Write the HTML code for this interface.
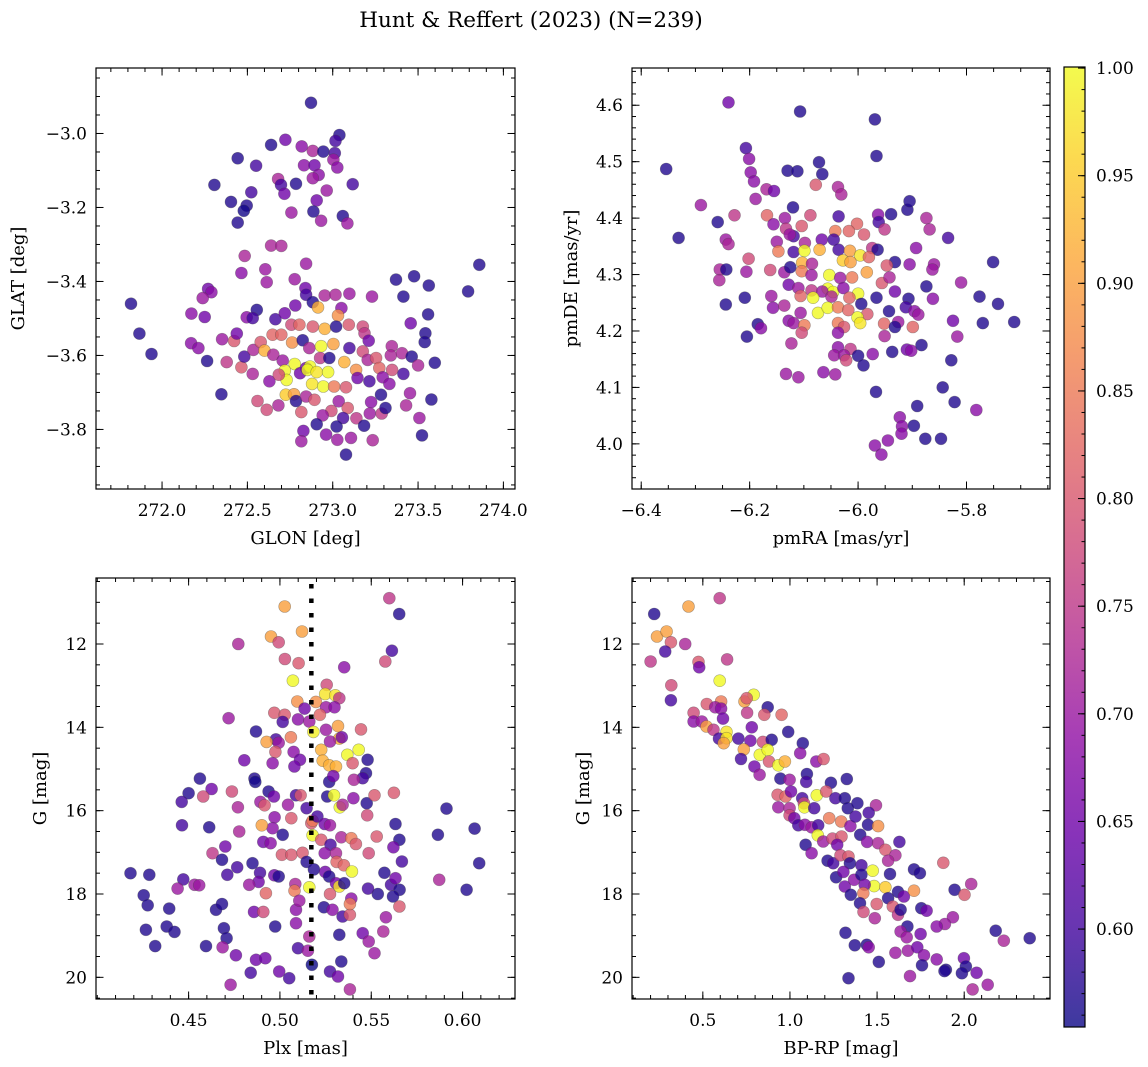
<!DOCTYPE html>
<html><head><meta charset="utf-8"><style>
html,body{margin:0;padding:0;background:#fff;}
svg{display:block;font-family:"DejaVu Serif","Liberation Serif",serif;}
</style></head><body>
<svg id="fig" width="1148" height="1067" viewBox="0 0 1148 1067" xmlns="http://www.w3.org/2000/svg">
<text x="531" y="27" font-size="21.5" text-anchor="middle">Hunt &amp; Reffert (2023) (N=239)</text>
</svg>
<script>
// ---------- Panel 1: GLON vs GLAT ----------
const p1Glon=[272.873,273.039,273.016,272.639,272.723,272.818,272.883,272.945,273.012,273.004,273.027,272.443,272.551,272.832,272.893,272.918,272.883,272.680,272.697,272.785,273.117,272.307,272.523,272.717,272.965,272.404,272.496,272.479,272.906,272.758,272.887,273.059,273.086,272.932,272.443,272.639,272.699,272.484,272.844,272.605,272.465,272.613,272.777,272.270,272.289,272.238,271.818,272.840,272.844,272.953,273.016,273.098,273.230,273.371,273.477,273.563,273.414,273.859,273.793,272.883,272.781,272.914,273.051,273.031,272.172,272.250,272.496,272.555,272.531,272.664,272.719,273.559,273.457,271.867,271.938,272.170,272.213,272.264,272.352,272.422,272.438,272.379,272.465,272.482,272.535,272.578,272.600,272.648,272.699,272.758,272.805,272.883,272.953,273.020,273.094,273.176,273.186,273.211,272.762,272.824,272.863,272.932,273.004,273.098,273.176,272.652,272.707,272.777,272.844,272.867,272.926,272.980,273.068,273.137,273.205,273.254,273.273,273.346,273.340,273.406,273.463,273.500,273.543,273.539,273.598,272.531,272.629,272.719,272.730,272.684,272.809,272.852,272.906,272.973,272.879,272.945,273.008,273.078,273.145,273.215,273.293,273.348,273.332,273.414,273.453,272.348,272.559,272.613,272.682,272.725,272.773,272.785,272.844,272.893,272.816,273.035,273.088,272.992,272.941,273.061,273.139,273.225,273.217,273.283,273.287,273.309,273.430,273.508,273.578,273.523,272.906,273.023,273.184,272.828,272.961,272.816,273.027,273.107,273.234,273.078];
const p1Glat=[-2.917,-3.004,-3.020,-3.031,-3.017,-3.035,-3.047,-3.049,-3.053,-3.071,-3.092,-3.067,-3.087,-3.086,-3.086,-3.112,-3.121,-3.123,-3.139,-3.136,-3.137,-3.139,-3.159,-3.163,-3.154,-3.185,-3.195,-3.209,-3.181,-3.214,-3.211,-3.223,-3.243,-3.236,-3.241,-3.303,-3.304,-3.331,-3.352,-3.367,-3.377,-3.402,-3.394,-3.420,-3.429,-3.445,-3.460,-3.418,-3.436,-3.438,-3.436,-3.433,-3.441,-3.395,-3.386,-3.411,-3.441,-3.355,-3.427,-3.456,-3.465,-3.470,-3.472,-3.492,-3.487,-3.496,-3.497,-3.477,-3.499,-3.502,-3.486,-3.489,-3.513,-3.541,-3.596,-3.567,-3.580,-3.615,-3.556,-3.561,-3.541,-3.618,-3.632,-3.603,-3.585,-3.564,-3.587,-3.544,-3.544,-3.517,-3.517,-3.522,-3.528,-3.522,-3.517,-3.522,-3.540,-3.560,-3.565,-3.559,-3.580,-3.575,-3.569,-3.580,-3.589,-3.598,-3.614,-3.623,-3.634,-3.630,-3.607,-3.607,-3.618,-3.639,-3.612,-3.607,-3.634,-3.575,-3.600,-3.594,-3.603,-3.627,-3.540,-3.564,-3.620,-3.650,-3.670,-3.641,-3.666,-3.652,-3.648,-3.639,-3.645,-3.645,-3.677,-3.684,-3.684,-3.686,-3.661,-3.670,-3.659,-3.639,-3.677,-3.650,-3.702,-3.705,-3.723,-3.747,-3.735,-3.706,-3.705,-3.723,-3.711,-3.720,-3.753,-3.724,-3.742,-3.750,-3.762,-3.769,-3.770,-3.726,-3.757,-3.706,-3.757,-3.742,-3.735,-3.769,-3.719,-3.816,-3.786,-3.792,-3.790,-3.804,-3.814,-3.832,-3.828,-3.823,-3.829,-3.868];
const p1Prob=[.57,.57,.6,.57,.65,.68,.72,.57,.6,.7,.68,.57,.6,.68,.65,.68,.7,.72,.6,.57,.6,.57,.6,.65,.7,.57,.57,.56,.65,.7,.57,.57,.7,.7,.57,.72,.72,.72,.7,.7,.68,.7,.7,.65,.68,.7,.57,.65,.6,.72,.72,.7,.7,.57,.57,.57,.57,.57,.57,.57,.65,.92,.68,.88,.68,.65,.68,.57,.6,.6,.65,.57,.65,.57,.57,.68,.68,.57,.7,.8,.65,.75,.8,.6,.72,.8,.92,.82,.82,.78,.82,.8,.92,.57,.8,.78,.75,.65,.88,.57,.72,1.0,.9,.6,.78,.72,.7,1.0,.65,1.0,.75,.57,.92,.88,.72,.8,.82,.72,.72,.72,.57,.72,.57,.57,.57,.72,.68,1.0,1.0,.78,.65,1.0,.98,1.0,.98,1.0,.85,.8,.65,.6,.68,.78,.68,.6,.7,.57,.78,.78,.72,.95,.9,.57,.72,.8,.8,.7,.8,.78,.7,.6,.75,.68,.7,.57,.75,.57,.72,.7,.57,.57,.57,.57,.57,.65,.68,.7,.7,.7,.72,.57];
const p1XTicks=[272.0,272.5,273.0,273.5,274.0];
const p1YTicks=[-3.8,-3.6,-3.4,-3.2,-3.0];

// ---------- Panel 2: pmRA vs pmDE ----------
const p2Pmra=[-6.239,-6.107,-5.969,-5.966,-6.354,-6.207,-6.201,-6.198,-6.192,-6.189,-6.169,-6.155,-6.130,-6.112,-6.072,-6.066,-6.078,-6.037,-6.031,-6.290,-6.331,-6.259,-6.228,-6.168,-6.120,-6.088,-6.135,-6.036,-6.156,-6.133,-6.104,-6.119,-6.126,-6.002,-6.017,-6.042,-5.989,-5.963,-5.939,-5.909,-5.905,-5.962,-5.951,-5.874,-5.868,-5.834,-6.244,-6.239,-6.150,-6.098,-6.067,-6.045,-6.147,-6.119,-6.099,-6.071,-6.036,-6.015,-5.996,-5.974,-5.964,-5.893,-6.202,-6.103,-6.085,-6.028,-6.014,-5.980,-5.932,-5.947,-5.905,-5.860,-5.863,-5.751,-6.255,-6.243,-6.256,-6.206,-6.162,-6.136,-6.125,-6.104,-6.086,-6.053,-6.033,-6.011,-5.984,-5.956,-5.942,-6.128,-6.110,-6.086,-6.056,-6.046,-6.027,-6.000,-6.066,-5.932,-5.874,-5.810,-6.209,-6.160,-6.106,-6.083,-6.049,-6.016,-5.994,-5.966,-5.907,-5.862,-5.776,-5.742,-6.244,-6.157,-6.136,-6.106,-6.074,-6.056,-6.037,-6.018,-5.983,-5.943,-5.912,-5.896,-5.889,-6.128,-6.119,-6.099,-6.104,-6.037,-6.026,-6.001,-5.996,-6.037,-5.952,-5.926,-5.899,-5.932,-5.825,-5.770,-5.712,-6.185,-6.179,-6.205,-6.123,-5.951,-5.817,-6.037,-6.014,-6.044,-6.026,-6.022,-6.000,-5.990,-5.973,-5.937,-5.910,-5.902,-5.883,-5.828,-6.133,-6.110,-6.064,-6.042,-5.967,-5.844,-5.891,-5.822,-5.782,-5.923,-5.919,-5.897,-5.920,-5.876,-5.847,-5.969,-5.945,-5.957];
const p2Pmde=[4.605,4.589,4.575,4.510,4.487,4.524,4.505,4.481,4.465,4.434,4.451,4.448,4.484,4.483,4.499,4.478,4.459,4.455,4.442,4.423,4.365,4.393,4.405,4.405,4.419,4.405,4.400,4.403,4.389,4.381,4.386,4.368,4.371,4.390,4.377,4.377,4.371,4.406,4.407,4.415,4.430,4.393,4.380,4.400,4.380,4.365,4.362,4.354,4.358,4.356,4.362,4.362,4.341,4.340,4.342,4.344,4.344,4.342,4.334,4.347,4.344,4.347,4.328,4.321,4.319,4.325,4.322,4.331,4.322,4.316,4.318,4.318,4.309,4.322,4.309,4.309,4.290,4.305,4.308,4.304,4.313,4.306,4.299,4.299,4.294,4.295,4.304,4.285,4.295,4.282,4.276,4.272,4.275,4.269,4.276,4.266,4.270,4.270,4.279,4.286,4.259,4.262,4.262,4.259,4.261,4.259,4.248,4.259,4.257,4.257,4.261,4.248,4.247,4.241,4.245,4.232,4.232,4.241,4.242,4.237,4.230,4.235,4.242,4.235,4.229,4.218,4.214,4.210,4.197,4.214,4.207,4.224,4.214,4.197,4.213,4.216,4.207,4.207,4.218,4.214,4.216,4.212,4.205,4.190,4.178,4.191,4.190,4.171,4.168,4.157,4.157,4.148,4.156,4.139,4.159,4.163,4.167,4.165,4.175,4.148,4.124,4.118,4.127,4.123,4.092,4.100,4.067,4.074,4.060,4.047,4.031,4.032,4.018,4.009,4.009,3.997,4.006,3.981];
const p2Prob=[.65,.57,.57,.57,.57,.6,.68,.68,.68,.7,.72,.65,.57,.57,.57,.57,.8,.72,.72,.7,.57,.57,.75,.82,.57,.78,.7,.6,.68,.75,.8,.6,.7,.82,.82,.85,.8,.68,.57,.57,.57,.6,.75,.72,.72,.6,.7,.72,.7,.72,.65,.6,.85,.6,1.0,.92,.6,.9,.98,.75,.57,.68,.78,.92,.72,.95,.9,.82,.57,.8,.68,.7,.7,.57,.72,.57,.72,.7,.78,.7,.57,.85,.7,1.0,.7,.85,.9,.8,.72,.65,.7,.75,1.0,1.0,.68,1.0,.7,.65,.57,.7,.57,.7,.82,1.0,.72,.82,.57,.57,.57,.68,.57,.57,.57,.68,.72,.7,1.0,1.0,.85,.82,.8,.57,.6,.68,.7,.68,.7,.85,.78,.85,.8,1.0,.98,.68,.82,.7,.82,.57,.65,.57,.57,.57,.68,.57,.72,.72,.7,.68,.75,.7,.7,.78,.57,.57,.68,.57,.65,.68,.57,.57,.7,.7,.68,.7,.57,.57,.57,.57,.68,.68,.68,.57,.68,.57,.57,.68,.68,.68];
const p2XTicks=[-6.4,-6.2,-6.0,-5.8];
const p2YTicks=[4.0,4.1,4.2,4.3,4.4,4.5,4.6];

// ---------- Panel 3: Plx vs G ----------
const p3Plx=[.5599,.5653,.5026,.5121,.4951,.4993,.4772,.5613,.5577,.5027,.5102,.5352,.5071,.5256,.5248,.5303,.5325,.5095,.5197,.5135,.5252,.5299,.4719,.4969,.5026,.5015,.5099,.5219,.5161,.5183,.5252,.5318,.5444,.4869,.4978,.4927,.4993,.5060,.5325,.5339,.5274,.4975,.5075,.5226,.5369,.5431,.4805,.4960,.5110,.5079,.5234,.5270,.5307,.5398,.5480,.5471,.5453,.5405,.4562,.4861,.4865,.5270,.5292,.4500,.4626,.4580,.4462,.4737,.4770,.4938,.4967,.4893,.4916,.5044,.5088,.5113,.5146,.5259,.5296,.5328,.5343,.5402,.5475,.5518,.5624,.5478,.5912,.4464,.4613,.4777,.4971,.4960,.5062,.5015,.4901,.5172,.5179,.5205,.5245,.5274,.5179,.5226,.5336,.5391,.5416,.5530,.5633,.5654,.5621,.5865,.6066,.4701,.4631,.4683,.4909,.4949,.5011,.5062,.5124,.5277,.5245,.5307,.5310,.5350,.5394,.5486,.5668,.6091,.4182,.4285,.4471,.4440,.4533,.4558,.4712,.4766,.4850,.4891,.4883,.4832,.4969,.4993,.5146,.5186,.5084,.5161,.5080,.4923,.5248,.5270,.5307,.5325,.5352,.5274,.5572,.5608,.5633,.5655,.5619,.5536,.5482,.5872,.6022,.4254,.4276,.4394,.4650,.4683,.4858,.4909,.5088,.5106,.5241,.5288,.5343,.5383,.5391,.5383,.5654,.5580,.4266,.4380,.4423,.4693,.4708,.4974,.5088,.5161,.5325,.5453,.5486,.5566,.4317,.4595,.4686,.4759,.4869,.4920,.5099,.5153,.5336,.5518,.4840,.4996,.5051,.5175,.5274,.5318,.4730,.5383];
const p3G=[10.90,11.28,11.10,11.70,11.82,11.96,12.00,12.16,12.42,12.36,12.46,12.56,12.88,12.98,13.20,13.23,13.30,13.38,13.39,13.55,13.52,13.52,13.78,13.65,13.70,13.87,13.81,13.70,13.86,14.11,14.06,13.97,14.05,14.10,14.29,14.35,14.37,14.24,14.27,14.24,14.34,14.59,14.59,14.54,14.66,14.54,14.79,14.86,14.78,14.94,14.80,14.91,14.94,14.86,14.78,15.10,15.22,15.26,15.23,15.23,15.31,15.31,15.17,15.58,15.48,15.66,15.79,15.54,15.92,15.54,15.66,15.79,15.87,15.86,15.63,15.63,15.94,15.66,15.63,15.92,15.86,15.70,15.82,15.63,15.57,16.11,15.95,16.35,16.40,16.50,16.16,16.42,16.18,16.58,16.35,16.30,16.24,16.14,16.32,16.35,16.59,16.70,16.64,16.66,16.80,16.62,16.32,16.70,16.88,16.58,16.43,16.86,17.02,17.18,16.75,16.78,17.06,17.06,17.01,16.82,17.02,17.02,17.23,17.31,17.46,17.02,17.22,17.26,17.50,17.54,17.65,17.87,17.78,17.79,17.54,17.36,17.26,17.49,17.71,17.78,17.55,17.58,17.23,17.41,17.76,17.84,17.92,17.98,17.47,17.58,17.74,17.82,17.74,18.00,17.49,17.78,17.62,17.90,18.06,18.00,17.87,17.66,17.90,18.03,18.27,18.35,18.38,18.24,18.43,18.43,18.38,18.16,18.32,18.38,18.54,18.50,18.11,18.24,18.30,18.56,18.86,18.78,18.91,18.82,19.06,18.78,18.70,19.02,18.98,18.94,19.14,18.90,19.25,19.25,19.28,19.47,19.58,19.54,19.30,19.36,19.62,19.42,19.89,19.86,20.02,19.70,19.86,19.98,20.18,20.29];
const p3Prob=[.75,.57,.9,.9,.9,.78,.72,.6,.78,.78,.8,.68,1.0,.78,.98,.98,.75,.88,.88,.65,.7,.68,.7,.8,.8,.6,.68,.82,.7,.99,.7,.9,.8,.57,.6,.9,.7,.85,.92,.65,.7,.8,.68,.92,1.0,1.0,.65,.68,.65,.65,.92,.92,.92,.8,.57,.57,.6,.72,.57,.57,.56,.57,.65,.57,.65,.78,.6,.78,.72,.57,.65,.7,.8,.7,.6,.8,.6,.57,1.0,1.0,.72,.68,.57,.8,.8,.78,.57,.6,.57,.72,.68,.68,.8,.57,.9,.8,.85,.6,.65,.7,1.0,.8,.72,.85,.8,.8,.57,.57,.65,.57,.57,.65,.75,.57,.65,.68,.8,.8,.8,.6,.68,.72,.82,.82,1.0,.78,.6,.57,.57,.57,.6,.7,.7,.7,.6,.6,.57,.6,.65,.7,.65,.57,.57,.57,.72,1.0,.85,.82,.65,.57,.65,.98,.57,.8,.57,.6,.65,.57,.57,.57,.6,.72,.57,.57,.57,.57,.57,.57,.65,.78,.68,.7,.57,.68,.6,.8,.68,.85,.8,.7,.57,.57,.57,.57,.57,.57,.68,.72,.57,.65,.7,.72,.57,.57,.7,.65,.65,.65,.6,.7,.57,.7,.6,.65,.6,.55,.6,.65,.7,.72];
const p3XTicks=[0.45,0.50,0.55,0.60];
const p3YTicks=[12,14,16,18,20];
const p3PlxLine=[0.5172];

// ---------- Panel 4: BP-RP vs G ----------
const p4Bprp=[.221,.418,.597,.237,.292,.317,.399,.284,.200,.475,.479,.639,.597,.319,.317,.739,.792,.752,.605,.523,.571,.605,.872,.754,.853,.952,.447,.447,.494,.616,.521,.561,.636,.593,.636,.620,.781,.990,.704,.773,.845,.895,.735,.827,.872,.880,.933,.971,1.074,1.059,1.151,1.193,.719,.796,.826,.945,.998,1.097,1.093,1.235,1.326,.929,.975,.933,.998,1.006,1.070,1.080,1.083,1.139,1.154,1.208,1.261,1.315,1.332,1.387,1.494,1.452,.998,1.025,1.048,1.086,1.124,1.162,1.225,1.294,1.347,1.376,1.403,1.448,1.506,1.090,1.124,1.160,1.191,1.244,1.296,1.271,1.216,1.248,1.290,1.336,1.344,1.443,1.506,1.548,1.605,1.628,1.563,1.410,1.265,1.307,1.315,1.368,1.410,1.475,1.483,1.548,1.429,1.421,1.349,1.402,1.498,1.563,1.574,1.620,1.654,1.712,1.712,1.746,1.422,1.487,1.590,1.620,1.635,1.754,1.784,1.880,1.945,2.002,2.040,1.935,1.889,1.842,1.674,1.635,1.670,1.750,1.319,1.372,1.441,1.452,1.605,1.677,1.731,1.769,1.842,1.758,1.895,1.998,2.010,1.987,2.071,2.135,2.048,1.689,1.510,1.336,2.181,2.227,2.376,1.887];
const p4G=[11.28,11.10,10.90,11.82,11.70,11.96,12.00,12.18,12.42,12.43,12.56,12.37,12.88,12.99,13.35,13.38,13.22,13.30,13.38,13.44,13.52,13.55,13.52,13.65,13.70,13.70,13.65,13.86,13.86,13.79,13.98,14.06,14.11,14.27,14.26,14.38,14.00,14.11,14.27,14.32,14.35,14.30,14.53,14.66,14.54,14.82,14.91,14.82,14.38,14.62,14.82,14.76,14.76,14.94,15.14,15.23,15.26,15.12,15.31,15.33,15.24,15.62,15.66,15.92,15.94,15.54,15.70,15.82,15.92,15.94,15.63,15.54,15.70,15.70,15.94,15.82,15.87,16.05,16.11,16.18,16.35,16.34,16.40,16.35,16.18,16.26,16.37,16.14,16.58,16.34,16.37,16.82,17.02,16.59,16.74,16.67,16.62,16.82,17.20,17.26,17.07,17.10,17.26,16.75,16.78,16.94,17.07,16.75,17.20,17.31,17.60,17.47,17.82,17.66,17.54,17.44,17.81,17.84,17.78,17.98,18.02,18.22,18.24,18.10,17.52,17.95,18.06,17.92,17.41,17.50,18.43,18.58,18.30,18.50,18.38,18.34,18.40,17.25,17.90,18.02,17.76,18.56,18.72,18.78,18.78,18.90,19.04,18.96,18.93,19.23,19.22,19.28,19.41,19.36,19.28,19.47,19.57,19.71,19.82,19.54,19.74,19.90,19.89,20.18,20.29,19.97,19.63,20.02,18.88,19.12,19.06,19.85];
const p4Prob=[.57,.9,.75,.9,.9,.8,.72,.6,.75,.8,.65,.75,1.0,.78,.6,.9,1.0,.8,.85,.8,.7,.68,.57,.75,.8,.82,.78,.68,.7,.65,.9,.75,.98,.6,.98,.9,.65,.57,.6,.65,.78,.57,.9,1.0,1.0,.8,1.0,.92,.57,.68,.68,.8,.6,.65,.7,.57,.7,.57,.6,.57,.57,.8,.82,.7,.72,.65,.6,.78,1.0,.6,1.0,.8,.6,.57,.57,.57,.72,.6,.78,.65,.6,.68,.7,.6,.85,.85,.68,.6,.57,.57,.88,.57,.68,1.0,.7,.78,.8,.65,.57,.6,.78,.8,.57,.68,.72,.8,.72,.6,.72,.6,.57,.65,.65,.68,.57,1.0,1.0,.95,.65,.85,.57,.57,.8,.57,.57,.57,.65,.88,.57,.57,.78,.72,.8,.75,.57,.57,.65,.8,.57,.8,.72,.7,.7,.68,.57,.7,.7,.65,.57,.57,.57,.68,.7,.7,.65,.68,.68,.57,.57,.65,.57,.57,.65,.7,.72,.7,.57,.57,.57,.72,.57,.57];
const p4XTicks=[0.5,1.0,1.5,2.0];
const p4YTicks=[12,14,16,18,20];

// ---------- Colorbar ----------
const cbTicks=[0.60,0.65,0.70,0.75,0.80,0.85,0.90,0.95,1.00];
const cbMin=0.5545, cbMax=1.0005;

const NS="http://www.w3.org/2000/svg";
const svg=document.getElementById('fig');
const plasma=[[13,8,135],[65,4,157],[106,0,168],[143,13,164],[177,42,144],[204,71,120],[225,100,98],[242,132,75],[252,166,54],[252,206,37],[240,249,33]];
function cmap(v){
  let t=(v-cbMin)/(cbMax-cbMin); t=Math.max(0,Math.min(1,t));
  const f=t*10, i=Math.min(9,Math.floor(f)), r=f-i;
  const a=plasma[i], b=plasma[i+1];
  return 'rgb('+a.map((c,k)=>Math.round(c+(b[k]-c)*r)).join(',')+')';
}
function el(tag,attrs,parent){
  const e=document.createElementNS(NS,tag);
  for(const k in attrs) e.setAttribute(k,attrs[k]);
  (parent||svg).appendChild(e); return e;
}
function fmt(v,d){ const s=v.toFixed(d); return s.replace('-','\u2212'); }
const TICKFS=17, LABFS=18;

function panel(c){
  const g=el('g',{});
  
  
  const sx=v=>c.x0+(v-c.xmin)/(c.xmax-c.xmin)*(c.x1-c.x0);
  const sy=c.invert? (v=>c.y0+(v-c.ymin)/(c.ymax-c.ymin)*(c.y1-c.y0))
                    : (v=>c.y1-(v-c.ymin)/(c.ymax-c.ymin)*(c.y1-c.y0));
  const pts=el('g',{},g);
  
  
  for(let i=0;i<c.xs.length;i++){
    const m=el('circle',{cx:sx(c.xs[i]).toFixed(1),cy:sy(c.ys[i]).toFixed(1),r:6,fill:cmap(c.ps[i]),'fill-opacity':0.8,stroke:'#444','stroke-opacity':0.45,'stroke-width':0.6},pts);
    
    
  }
  if(c.vline){
    for(const v of c.vline){
      const l=el('line',{x1:sx(v),x2:sx(v),y1:c.y0+6,y2:c.y1,stroke:'#000','stroke-width':4.5,'stroke-dasharray':'4.5 10'},g);
      
      
    }
  }
  const fr=el('rect',{x:c.x0,y:c.y0,width:c.x1-c.x0,height:c.y1-c.y0,fill:'none',stroke:'#000','stroke-width':1.2},g);
  
  
  const tk=el('g',{stroke:'#000','stroke-width':1},g);
  for(let v=Math.ceil(c.xmin/c.xminor)*c.xminor; v<=c.xmax; v+=c.xminor){
    const x=sx(v);
    el('line',{x1:x,x2:x,y1:c.y1,y2:c.y1-4},tk); el('line',{x1:x,x2:x,y1:c.y0,y2:c.y0+4},tk);
  }
  for(let v=Math.ceil(c.ymin/c.yminor)*c.yminor; v<=c.ymax; v+=c.yminor){
    const y=sy(v);
    el('line',{x1:c.x0,x2:c.x0+4,y1:y,y2:y},tk); el('line',{x1:c.x1,x2:c.x1-4,y1:y,y2:y},tk);
  }
  for(const v of c.xt){
    const x=sx(v);
    el('line',{x1:x,x2:x,y1:c.y1,y2:c.y1-7.5},tk); el('line',{x1:x,x2:x,y1:c.y0,y2:c.y0+7.5},tk);
    const t=el('text',{x:x,y:c.y1+27,'font-size':TICKFS,'text-anchor':'middle'},g);
    t.textContent=fmt(v,c.xd);
    
    
  }
  for(const v of c.yt){
    const y=sy(v);
    el('line',{x1:c.x0,x2:c.x0+7.5,y1:y,y2:y},tk); el('line',{x1:c.x1,x2:c.x1-7.5,y1:y,y2:y},tk);
    const t=el('text',{x:c.x0-9,y:y+6,'font-size':TICKFS,'text-anchor':'end'},g);
    t.textContent=fmt(v,c.yd);
    
    
  }
  const xl=el('text',{x:(c.x0+c.x1)/2,y:c.y1+55,'font-size':LABFS,'text-anchor':'middle'},g);
  xl.textContent=c.xlabel;
  
  
  const yl=el('text',{x:0,y:0,'font-size':LABFS,'text-anchor':'middle',transform:'translate('+c.ylx+','+(c.y0+c.y1)/2+') rotate(-90)'},g);
  yl.textContent=c.ylabel;
  
  
}

panel({name:'glon-glat-panel',x0:96,x1:515,y0:68,y1:489,xmin:271.613,xmax:274.068,ymin:-3.961,ymax:-2.823,xs:p1Glon,ys:p1Glat,ps:p1Prob,xt:p1XTicks,yt:p1YTicks,xd:1,yd:1,xminor:0.1,yminor:0.05,xlabel:'GLON [deg]',ylabel:'GLAT [deg]',ylx:24});
panel({name:'pm-panel',x0:632,x1:1050,y0:68,y1:489,xmin:-6.417,xmax:-5.646,ymin:3.920,ymax:4.666,xs:p2Pmra,ys:p2Pmde,ps:p2Prob,xt:p2XTicks,yt:p2YTicks,xd:1,yd:1,xminor:0.05,yminor:0.02,xlabel:'pmRA [mas/yr]',ylabel:'pmDE [mas/yr]',ylx:577});
panel({name:'plx-g-panel',x0:96,x1:515,y0:578,y1:999,xmin:0.3993,xmax:0.6287,ymin:10.416,ymax:20.52,invert:true,xs:p3Plx,ys:p3G,ps:p3Prob,xt:p3XTicks,yt:p3YTicks,xd:2,yd:0,xminor:0.01,yminor:0.5,xlabel:'Plx [mas]',ylabel:'G [mag]',ylx:46,vline:p3PlxLine});
panel({name:'cmd-panel',x0:632,x1:1050,y0:578,y1:999,xmin:0.0935,xmax:2.4924,ymin:10.416,ymax:20.52,invert:true,xs:p4Bprp,ys:p4G,ps:p4Prob,xt:p4XTicks,yt:p4YTicks,xd:1,yd:0,xminor:0.1,yminor:0.5,xlabel:'BP-RP [mag]',ylabel:'G [mag]',ylx:589});

(function(){
  const x0=1064,x1=1085,y0=67,y1=1027;
  const g=el('g',{});
  
  
  const defs=el('defs',{},g);
  const lg=el('linearGradient',{id:'plasmaG',x1:0,y1:1,x2:0,y2:0},defs);
  plasma.forEach((c,i)=>el('stop',{offset:(i*10)+'%','stop-color':'rgb('+c.join(',')+')'},lg));
  const r=el('rect',{x:x0,y:y0,width:x1-x0,height:y1-y0,fill:'url(#plasmaG)','fill-opacity':0.8,stroke:'#000','stroke-width':1.2},g);
  
  
  const sy=v=>y1-(v-cbMin)/(cbMax-cbMin)*(y1-y0);
  const tk=el('g',{stroke:'#000','stroke-width':1},g);
  for(let k=Math.ceil(cbMin*100);k<=Math.floor(cbMax*100);k++){
    const y=sy(k/100); el('line',{x1:x1,x2:x1-3.5,y1:y,y2:y},tk);
  }
  for(const v of cbTicks){
    const y=sy(v);
    el('line',{x1:x1,x2:x1-7,y1:y,y2:y},tk);
    const t=el('text',{x:x1+11,y:y+6,'font-size':TICKFS},g);
    t.textContent=v.toFixed(2);
    
    
  }
})();
</script>
</body></html>
